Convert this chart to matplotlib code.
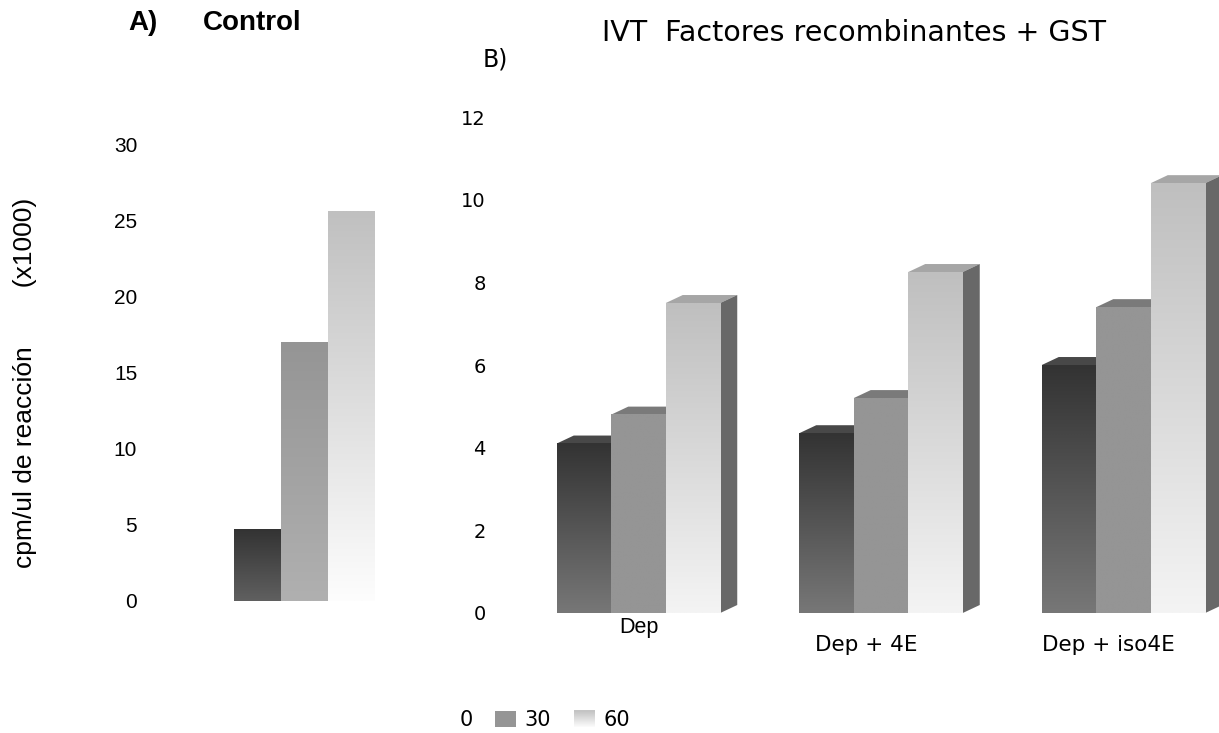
import numpy as np
import matplotlib
matplotlib.use("Agg")
import matplotlib.pyplot as plt
from matplotlib.patches import Polygon, Rectangle
from matplotlib.colors import LinearSegmentedColormap, to_rgb
from matplotlib.legend_handler import HandlerBase
from matplotlib.transforms import blended_transform_factory

# ---------------- data ----------------
control_labels = ["0", "30", "60"]
control_values = [4.7, 17.0, 25.6]

groups = ["Dep", "Dep + 4E", "Dep + iso4E"]
series_labels = ["0", "30", "60"]
series_0 = [4.1, 4.35, 6.0]
series_30 = [4.8, 5.2, 7.4]
series_60 = [7.5, 8.25, 10.4]

ticks_A = [0, 5, 10, 15, 20, 25, 30]
ticks_B = [0, 2, 4, 6, 8, 10, 12]

# ---------------- figure ----------------
W, H = 1219, 733
fig = plt.figure(figsize=(W / 100, H / 100), dpi=100)
fig.patch.set_facecolor("white")


def px_axes(left, top, right, bottom):
    return fig.add_axes([left / W, 1 - bottom / H, (right - left) / W, (bottom - top) / H])


def grad_cmap(top, bottom):
    return LinearSegmentedColormap.from_list("g", [bottom, top])


def grad_bar(ax, x0, x1, y0, y1, top, bottom, z):
    grad = np.linspace(0, 1, 256).reshape(-1, 1)
    ax.imshow(grad, extent=[x0, x1, y0, y1], origin="lower", aspect="auto",
              cmap=grad_cmap(top, bottom), interpolation="bilinear", zorder=z)


# styles
A_styles = [("#333333", "#606060"), ("#959595", "#b0b0b0"), ("#c0c0c0", "#fdfdfd")]
B_front = [("#333333", "#777777"), ("#959595", "#959595"), ("#bfbfbf", "#f4f4f4")]
B_top = ["#484848", "#7a7a7a", "#a6a6a6"]
B_side = "#686868"

# ---------------- Panel A ----------------
axA = px_axes(140, 100, 420, 640)
a_zero, a_ppu = 601, 15.2
a_c0, a_w = 257.5, 47.0
for i, v in enumerate(control_values):
    grad_bar(axA, i - 0.5, i + 0.5, 0, v, A_styles[i][0], A_styles[i][1], 2 + i)
axA.set_xlim((140 - a_c0) / a_w, (420 - a_c0) / a_w)
axA.set_ylim((a_zero - 640) / a_ppu, (a_zero - 100) / a_ppu)
axA.set_yticks(ticks_A)
axA.set_yticklabels([str(t) for t in ticks_A], fontsize=15, family="Liberation Sans")
axA.set_xticks([])
axA.tick_params(axis="y", length=0, pad=2)
for s in axA.spines.values():
    s.set_visible(False)
axA.patch.set_alpha(0)

# ---------------- Panel B ----------------
axB = px_axes(490, 100, 1219, 640)
b_zero, b_ppu = 613, 41.33
b_c0, b_gsp = 638.5, 242.5
bw = 54.5 / b_gsp
dx = 17 / b_gsp
dy = 8 / b_ppu
series = [series_0, series_30, series_60]
for g in range(len(groups)):
    for k, vals in enumerate(series):
        v = vals[g]
        xc = g + (k - 1) * bw
        x0, x1 = xc - bw / 2, xc + bw / 2
        z = 2 + 3 * k
        top = Polygon([(x0, v), (x1, v), (x1 + dx, v + dy), (x0 + dx, v + dy)],
                      closed=True, facecolor=B_top[k], edgecolor="none", zorder=z)
        side = Polygon([(x1, 0), (x1 + dx, dy), (x1 + dx, v + dy), (x1, v)],
                       closed=True, facecolor=B_side, edgecolor="none", zorder=z)
        axB.add_patch(top)
        axB.add_patch(side)
        grad_bar(axB, x0, x1, 0, v, B_front[k][0], B_front[k][1], z + 1)

axB.set_xlim((490 - b_c0) / b_gsp, (1219 - b_c0) / b_gsp)
axB.set_ylim((b_zero - 640) / b_ppu, (b_zero - 100) / b_ppu)
axB.set_yticks(ticks_B)
axB.set_yticklabels([str(t) for t in ticks_B], fontsize=14, family="DejaVu Sans")
axB.set_xticks([])
axB.tick_params(axis="y", length=0, pad=3)
for s in axB.spines.values():
    s.set_visible(False)
axB.patch.set_alpha(0)

# category labels
tr = blended_transform_factory(axB.transData, fig.transFigure)
cat_y = [628, 645, 645]
cat_dx = [0, -15, -15.5]
cat_font = [("Liberation Sans", 15.5), ("DejaVu Sans", 15.5), ("DejaVu Sans", 15.5)]
for g, lab in enumerate(groups):
    axB.text(g + cat_dx[g] / b_gsp, 1 - cat_y[g] / H, lab, transform=tr,
             ha="center", va="center", fontsize=cat_font[g][1], family=cat_font[g][0])

# ---------------- texts ----------------
fig.text(143 / W, 1 - 23 / H, "A)", fontsize=20, fontweight="bold",
         family="Liberation Sans", ha="center", va="center")
fig.text(252 / W, 1 - 23 / H, "Control", fontsize=20, fontweight="bold",
         family="Liberation Sans", ha="center", va="center")
fig.text(495 / W, 1 - 60 / H, "B)", fontsize=17, family="DejaVu Sans",
         ha="center", va="center")
fig.text(854 / W, 1 - 33 / H, "IVT  Factores recombinantes + GST", fontsize=20.5,
         family="DejaVu Sans", ha="center", va="center")
fig.text(25 / W, 1 - 383 / H, "cpm/ul de reacción        (x1000)", fontsize=19,
         family="Liberation Sans", rotation=90, ha="center", va="center")


# ---------------- legend ----------------
class GradHandler(HandlerBase):
    def __init__(self, top, bottom, n=16):
        super().__init__()
        self.top, self.bottom, self.n = to_rgb(top), to_rgb(bottom), n

    def create_artists(self, legend, orig_handle, xdescent, ydescent, width,
                       height, fontsize, trans):
        arts = []
        for k in range(self.n):
            f = k / (self.n - 1)
            c = tuple(self.bottom[j] * (1 - f) + self.top[j] * f for j in range(3))
            arts.append(Rectangle((-xdescent, -ydescent + height * k / self.n),
                                  width, height / self.n + 0.3, facecolor=c,
                                  edgecolor="none", transform=trans))
        return arts


h0 = Rectangle((0, 0), 1, 1, facecolor="none", edgecolor="none")
h30 = Rectangle((0, 0), 1, 1, facecolor="#959595", edgecolor="none")
h60 = Rectangle((0, 0), 1, 1, facecolor="#d0d0d0", edgecolor="none")
leg = fig.legend([h0, h30, h60], series_labels, loc="center",
                 bbox_to_anchor=(530 / W, 1 - 720 / H), ncol=3, frameon=False,
                 prop={"family": "DejaVu Sans", "size": 15},
                 handlelength=1.0, handleheight=0.8, handletextpad=0.4,
                 columnspacing=1.1,
                 handler_map={h60: GradHandler("#c4c4c4", "#fafafa")})

fig.savefig("out.png", dpi=100, facecolor="white")
